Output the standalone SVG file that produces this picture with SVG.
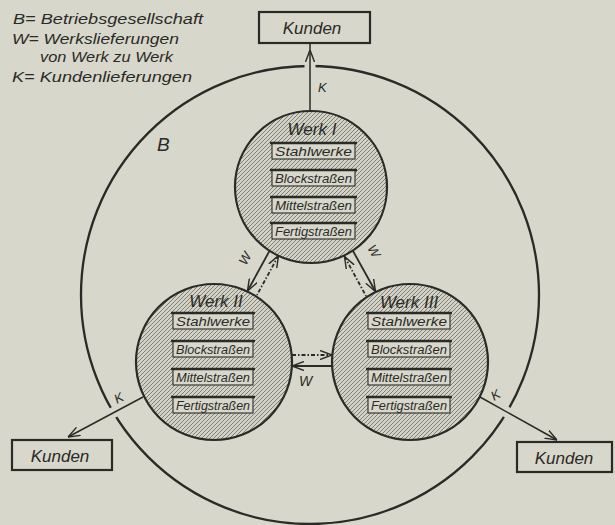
<svg xmlns="http://www.w3.org/2000/svg" width="615" height="525" viewBox="0 0 615 525">
<style>
.ink{stroke:#2a2a27;fill:none}
.t{font-family:"Liberation Sans","DejaVu Sans",sans-serif;font-style:italic;fill:#2a2a27}
.leg{font-size:15px}
.row{font-size:12px}
.werk{font-size:17px}
.kbox{fill:#d8d7cb;stroke:#2a2a27;stroke-width:2.2}
.plant{fill:url(#hatch);stroke:#2a2a27;stroke-width:2.2}
.cell{fill:#d8d7cb;stroke:#2a2a27;stroke-width:1.1}
.bar{stroke:#2a2a27;stroke-width:2.4}
.gap{stroke:#d8d7cb;stroke-width:11}
.k{stroke:#2a2a27;stroke-width:1.5;fill:none}
.w{stroke:#2a2a27;stroke-width:1.8;fill:none}
.wd{stroke:#2a2a27;stroke-width:1.8;fill:none;stroke-dasharray:4 2 1.5 2}
</style>
<defs>
<pattern id="hatch" patternUnits="userSpaceOnUse" width="4" height="4">
<rect width="4" height="4" fill="#d3d2c6"/>
<path d="M-1,1 l2,-2 M0,4 l4,-4 M3,5 l2,-2" stroke="#77766e" stroke-width="0.9"/>
</pattern>
<marker id="arr" markerUnits="userSpaceOnUse" viewBox="0 0 12 10" refX="12" refY="5" markerWidth="12" markerHeight="10" orient="auto-start-reverse">
<path d="M0,0.5 L12,5 L0,9.5" fill="none" stroke="#2a2a27" stroke-width="1.4"/>
</marker>
</defs>
<rect width="615" height="525" fill="#d8d7cb"/>

<g id="legend">
<text class="t leg" x="13" y="24" textLength="190" lengthAdjust="spacingAndGlyphs">B= Betriebsgesellschaft</text>
<text class="t leg" x="12" y="44" textLength="167" lengthAdjust="spacingAndGlyphs">W= Werkslieferungen</text>
<text class="t leg" x="40" y="62" textLength="133" lengthAdjust="spacingAndGlyphs">von Werk zu Werk</text>
<text class="t leg" x="12" y="82" textLength="180" lengthAdjust="spacingAndGlyphs">K= Kundenlieferungen</text>
</g>

<g id="B">
<circle class="ink" cx="310" cy="295" r="229" stroke-width="2.3"/>
<text class="t" x="157" y="151" font-size="19">B</text>
</g>

<g id="connectors">
<line class="gap" x1="310" y1="58" x2="310" y2="76"/>
<line class="gap" x1="118" y1="410" x2="106" y2="416.5"/>
<line class="gap" x1="503" y1="410" x2="515" y2="417"/>
<path class="k" d="M310,112 V50" marker-end="url(#arr)"/>
<path class="k" d="M310,50 V43"/>
<path class="k" d="M143,397 L68,437" marker-end="url(#arr)"/>
<path class="k" d="M480,397 L557,440" marker-end="url(#arr)"/>
<path class="w" d="M270,250 L247.5,291" marker-end="url(#arr)"/>
<path class="wd" d="M278.5,255.5 L257,295" marker-start="url(#arr)"/>
<path class="wd" d="M344.5,256.5 L366,296" marker-start="url(#arr)"/>
<path class="w" d="M353,251 L375.5,291.5" marker-end="url(#arr)"/>
<path class="wd" d="M292,355 L332,355" marker-end="url(#arr)"/>
<path class="w" d="M332,366 L292,366" marker-end="url(#arr)"/>
<text class="t" x="318" y="92" font-size="13">K</text>
<text class="t" x="0" y="0" font-size="13" transform="translate(117,404) rotate(-28)">K</text>
<text class="t" x="0" y="0" font-size="13" transform="translate(494,401) rotate(-30)">K</text>
<text class="t" x="0" y="0" font-size="13" transform="translate(246,266) rotate(-61)">W</text>
<text class="t" x="0" y="0" font-size="13" transform="translate(367,248) rotate(60)">W</text>
<text class="t" x="299" y="386" font-size="14">W</text>
</g>

<g id="kunden-top">
<rect class="kbox" x="259" y="12" width="111" height="31"/>
<text class="t" x="312" y="34" font-size="17" text-anchor="middle">Kunden</text>
</g>
<g id="kunden-left">
<rect class="kbox" x="12" y="440" width="100" height="30"/>
<text class="t" x="60" y="462" font-size="17" text-anchor="middle">Kunden</text>
</g>
<g id="kunden-right">
<rect class="kbox" x="517" y="442" width="95" height="30"/>
<text class="t" x="564" y="464" font-size="17" text-anchor="middle">Kunden</text>
</g>

<g id="werk1">
<circle class="plant" cx="311" cy="187" r="76"/>
<text class="t werk" x="312" y="135" text-anchor="middle">Werk I</text>
<rect class="cell" x="272" y="143" width="83" height="16"/><line class="bar" x1="270" y1="143" x2="357" y2="143"/>
<text class="t row" x="275" y="155.5" textLength="77" lengthAdjust="spacingAndGlyphs">Stahlwerke</text>
<rect class="cell" x="272" y="170" width="83" height="16"/><line class="bar" x1="270" y1="170" x2="357" y2="170"/>
<text class="t row" x="275" y="182.5" textLength="77" lengthAdjust="spacingAndGlyphs">Blockstraßen</text>
<rect class="cell" x="272" y="197" width="83" height="16"/><line class="bar" x1="270" y1="197" x2="357" y2="197"/>
<text class="t row" x="275" y="209.5" textLength="77" lengthAdjust="spacingAndGlyphs">Mittelstraßen</text>
<rect class="cell" x="272" y="223" width="83" height="16"/><line class="bar" x1="270" y1="223" x2="357" y2="223"/>
<text class="t row" x="275" y="235.5" textLength="77" lengthAdjust="spacingAndGlyphs">Fertigstraßen</text>
</g>

<g id="werk2">
<circle class="plant" cx="214" cy="362" r="78"/>
<text class="t werk" x="216" y="307" text-anchor="middle">Werk II</text>
<rect class="cell" x="173" y="313" width="80" height="16"/><line class="bar" x1="171" y1="313" x2="255" y2="313"/>
<text class="t row" x="176" y="325.5" textLength="74" lengthAdjust="spacingAndGlyphs">Stahlwerke</text>
<rect class="cell" x="173" y="341" width="80" height="16"/><line class="bar" x1="171" y1="341" x2="255" y2="341"/>
<text class="t row" x="176" y="353.5" textLength="74" lengthAdjust="spacingAndGlyphs">Blockstraßen</text>
<rect class="cell" x="173" y="369" width="80" height="16"/><line class="bar" x1="171" y1="369" x2="255" y2="369"/>
<text class="t row" x="176" y="381.5" textLength="74" lengthAdjust="spacingAndGlyphs">Mittelstraßen</text>
<rect class="cell" x="173" y="397" width="80" height="16"/><line class="bar" x1="171" y1="397" x2="255" y2="397"/>
<text class="t row" x="176" y="409.5" textLength="74" lengthAdjust="spacingAndGlyphs">Fertigstraßen</text>
</g>

<g id="werk3">
<circle class="plant" cx="410" cy="362" r="78"/>
<text class="t werk" x="409" y="308" text-anchor="middle">Werk III</text>
<rect class="cell" x="368" y="313" width="82" height="16"/><line class="bar" x1="366" y1="313" x2="452" y2="313"/>
<text class="t row" x="371" y="325.5" textLength="76" lengthAdjust="spacingAndGlyphs">Stahlwerke</text>
<rect class="cell" x="368" y="341" width="82" height="16"/><line class="bar" x1="366" y1="341" x2="452" y2="341"/>
<text class="t row" x="371" y="353.5" textLength="76" lengthAdjust="spacingAndGlyphs">Blockstraßen</text>
<rect class="cell" x="368" y="369" width="82" height="16"/><line class="bar" x1="366" y1="369" x2="452" y2="369"/>
<text class="t row" x="371" y="381.5" textLength="76" lengthAdjust="spacingAndGlyphs">Mittelstraßen</text>
<rect class="cell" x="368" y="397" width="82" height="16"/><line class="bar" x1="366" y1="397" x2="452" y2="397"/>
<text class="t row" x="371" y="409.5" textLength="76" lengthAdjust="spacingAndGlyphs">Fertigstraßen</text>
</g>
</svg>
